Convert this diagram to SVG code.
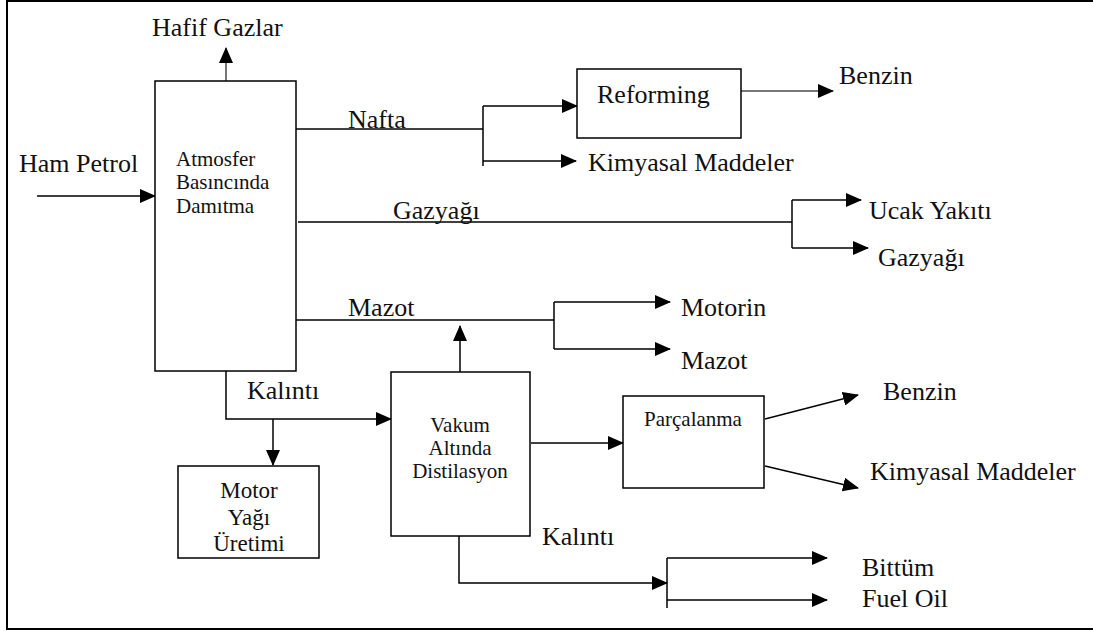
<svg xmlns="http://www.w3.org/2000/svg" width="1093" height="631" viewBox="0 0 1093 631">
<defs>
<marker id="ah" markerUnits="userSpaceOnUse" markerWidth="16" markerHeight="14" viewBox="0 0 16 14" refX="15" refY="7" orient="auto">
<path d="M0,0 L16,7 L0,14 Z" fill="#000"/>
</marker>
</defs>
<style>
.box{fill:#fff;stroke:#000;stroke-width:1.5}
.ln{fill:none;stroke:#000;stroke-width:1.5}
.gr{fill:none;stroke:#777;stroke-width:2}
text{font-family:'Liberation Serif','DejaVu Serif',serif;fill:#111}
.t{font-size:26px}
.s{font-size:21px}
.m{font-size:23px}
</style>
<rect width="1093" height="631" fill="#fff"/>
<path d="M1100,1 H7 V629 H1100" fill="none" stroke="#000" stroke-width="2"/>

<g id="connectors">
<path class="gr" d="M226,83 V48" marker-end="url(#ah)"/>
<path class="ln" d="M37,196 H155" marker-end="url(#ah)"/>
<path class="ln" d="M296,129 H483"/>
<path class="ln" d="M483,106 V166"/>
<path class="ln" d="M483,106 H577" marker-end="url(#ah)"/>
<path class="ln" d="M483,161 H576" marker-end="url(#ah)"/>
<path class="gr" d="M741,91 H833" marker-end="url(#ah)"/>
<path class="ln" d="M298,222 H792"/>
<path class="ln" d="M792,200 V248"/>
<path class="ln" d="M792,200 H861" marker-end="url(#ah)"/>
<path class="ln" d="M792,248 H868" marker-end="url(#ah)"/>
<path class="ln" d="M296,320 H554"/>
<path class="ln" d="M554,302 V349"/>
<path class="ln" d="M554,302 H670" marker-end="url(#ah)"/>
<path class="ln" d="M554,349 H670" marker-end="url(#ah)"/>
<path class="ln" d="M460,372 V326" marker-end="url(#ah)"/>
<path class="ln" d="M226,371 V419 H391" marker-end="url(#ah)"/>
<path class="ln" d="M273,419 V465" marker-end="url(#ah)"/>
<path class="ln" d="M531,443 H623" marker-end="url(#ah)"/>
<path class="ln" d="M765,419 L858,395" marker-end="url(#ah)"/>
<path class="ln" d="M765,466 L858,488" marker-end="url(#ah)"/>
<path class="ln" d="M459,536 V583 H667" marker-end="url(#ah)"/>
<path class="ln" d="M667,558 V608"/>
<path class="ln" d="M667,558 H827" marker-end="url(#ah)"/>
<path class="ln" d="M667,600 H827" marker-end="url(#ah)"/>
</g>

<g id="labels">
<text class="t" x="152" y="36">Hafif Gazlar</text>
<text class="t" x="19" y="172">Ham Petrol</text>
<text class="t" x="348" y="128">Nafta</text>
<text class="t" x="588" y="171">Kimyasal Maddeler</text>
<text class="t" x="839" y="84">Benzin</text>
<text class="t" x="393" y="219">Gazyağı</text>
<text class="t" x="869" y="219">Ucak Yakıtı</text>
<text class="t" x="878" y="266">Gazyağı</text>
<text class="t" x="348" y="316">Mazot</text>
<text class="t" x="681" y="316">Motorin</text>
<text class="t" x="681" y="369">Mazot</text>
<text class="t" x="247" y="399">Kalıntı</text>
<text class="t" x="883" y="400">Benzin</text>
<text class="t" x="870" y="480">Kimyasal Maddeler</text>
<text class="t" x="542" y="545">Kalıntı</text>
<text class="t" x="862" y="576">Bittüm</text>
<text class="t" x="862" y="607">Fuel Oil</text>
</g>

<g id="atmosfer">
<rect class="box" x="155" y="81" width="141" height="290"/>
<text class="s" x="176" y="166">Atmosfer</text>
<text class="s" x="176" y="189">Basıncında</text>
<text class="s" x="176" y="213">Damıtma</text>
</g>

<g id="reforming">
<rect class="box" x="577" y="69" width="164" height="69"/>
<text class="t" x="597" y="103">Reforming</text>
</g>

<g id="vakum">
<rect class="box" x="391" y="372" width="139" height="164"/>
<text class="s" x="460" y="432" text-anchor="middle">Vakum</text>
<text class="s" x="460" y="455" text-anchor="middle">Altında</text>
<text class="s" x="460" y="478" text-anchor="middle">Distilasyon</text>
</g>

<g id="parcalanma">
<rect class="box" x="623" y="396" width="141" height="92"/>
<text class="s" x="644" y="426">Parçalanma</text>
</g>

<g id="motor">
<rect class="box" x="178" y="466" width="141" height="92"/>
<text class="m" x="249" y="498" text-anchor="middle">Motor</text>
<text class="m" x="249" y="525" text-anchor="middle">Yağı</text>
<text class="m" x="249" y="551" text-anchor="middle">Üretimi</text>
</g>
</svg>
